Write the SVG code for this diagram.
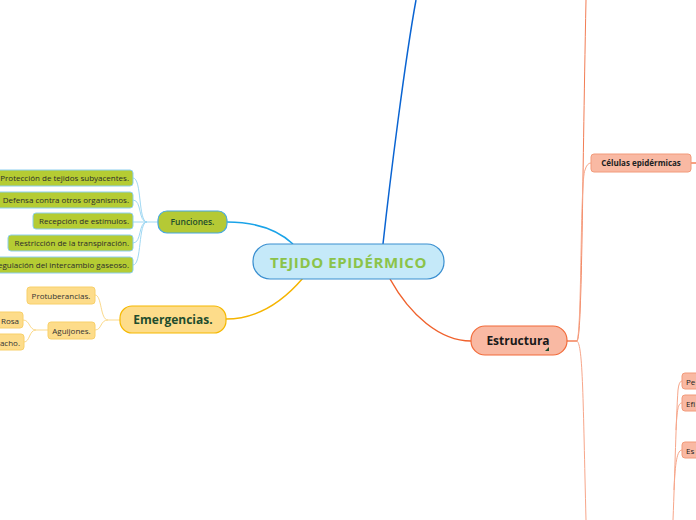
<svg xmlns="http://www.w3.org/2000/svg" width="696" height="520" viewBox="0 0 696 520">
<style>
text{font-family:"Open Sans","Noto Sans","Liberation Sans",sans-serif;}
.leaf-g rect{fill:#b5cc33;stroke:#8ccfee;stroke-width:1;}
.leaf-g text{font-size:8px;fill:#2b2b2b;text-anchor:end;}
.leaf-y rect{fill:#fddc8a;stroke:#f8d06a;stroke-width:1;}
.leaf-y text{font-size:8px;fill:#333;}
.leaf-r rect{fill:#f9b9a3;stroke:#f29a7a;stroke-width:1;}
.leaf-r text{font-size:8px;fill:#222;}
.c-blue{fill:none;stroke:#1aa3e8;stroke-width:1.5;}
.c-lblue{fill:none;stroke:#9fd8f3;stroke-width:1;}
.c-yel{fill:none;stroke:#f5b400;stroke-width:1.5;}
.c-lyel{fill:none;stroke:#fbd98a;stroke-width:1;}
.c-red{fill:none;stroke:#f0622d;stroke-width:1.5;}
.c-lred{fill:none;stroke:#f7a68a;stroke-width:1;}
</style>
<g id="connectors">
<path class="c-blue" d="M383,244 C390,180 405,60 416,0" style="stroke:#0a64d2"/>
<path class="c-blue" d="M293,244 C280,232 260,222 227,222"/>
<path class="c-yel" d="M303,278 C280,305 255,319 226,319"/>
<path class="c-red" d="M390,279 C410,315 440,341 471,341"/>
<path class="c-lblue" d="M158,222 L147,222 C138,222 142,178 133,178"/>
<path class="c-lblue" d="M147,222 C138,222 142,200 133,200"/>
<path class="c-lblue" d="M147,222 L133,222"/>
<path class="c-lblue" d="M147,222 C138,222 142,243 133,243"/>
<path class="c-lblue" d="M147,222 C138,222 142,265 133,265"/>
<path class="c-lyel" d="M120,320 L108,320 C100,320 102,295 95,295"/>
<path class="c-lyel" d="M108,320 C100,320 102,330 95,330"/>
<path class="c-lyel" d="M48,330 L36,330 C29,330 30,320 23,320"/>
<path class="c-lyel" d="M36,330 C29,330 30,342 24,342"/>
<path class="c-red" d="M567,341 L577,341" style="stroke-width:1.2"/>
<path class="c-lred" d="M577,341 C582,338 582,200 586,0" style="stroke:#f27d55"/>
<path class="c-lred" d="M577,341 C582,330 580,180 585,170 Q587,163 591,163"/>
<path class="c-lred" d="M577,341 C583,345 583,400 586,520"/>
<path class="c-red" d="M691,163 L696,163" style="stroke-width:1.2"/>
<path class="c-lred" d="M673,520 C675,470 676,420 678,390 Q679,381 682,381"/>
<path class="c-lred" d="M676,430 C677,410 678,403 682,403"/>
<path class="c-lred" d="M674,490 C675,470 676,450 682,450"/>
</g>
<g id="central">
<rect x="253" y="244" width="191" height="35" rx="17" fill="#c5e9f9" stroke="#3a8fd0" stroke-width="1.2"/>
<text x="348.5" y="267.5" text-anchor="middle" font-size="15" font-weight="bold" fill="#8bc34a" letter-spacing="0.6">TEJIDO EPIDÉRMICO</text>
</g>
<g id="funciones">
<rect x="158" y="211" width="69" height="22" rx="9" fill="#b5c935" stroke="#46a8df" stroke-width="1.2"/>
<text x="192.5" y="225" text-anchor="middle" font-size="8.5" font-weight="600" fill="#1f4d2e">Funciones.</text>
</g>
<g id="f1" class="leaf-g"><rect x="-10" y="170" width="143" height="16" rx="3"/><text x="129" y="181">Protección de tejidos subyacentes.</text></g>
<g id="f2" class="leaf-g"><rect x="-10" y="192" width="143" height="16" rx="3"/><text x="129" y="203">Defensa contra otros organismos.</text></g>
<g id="f3" class="leaf-g"><rect x="33" y="213" width="100" height="16" rx="3"/><text x="129" y="224">Recepción de estímulos.</text></g>
<g id="f4" class="leaf-g"><rect x="8" y="235" width="125" height="16" rx="3"/><text x="129" y="246">Restricción de la transpiración.</text></g>
<g id="f5" class="leaf-g"><rect x="-20" y="257" width="153" height="16" rx="3"/><text x="129" y="268">Regulación del intercambio gaseoso.</text></g>
<g id="emergencias">
<rect x="120" y="306" width="106" height="27" rx="12" fill="#fddc8a" stroke="#f5b800" stroke-width="1.2"/>
<text x="173" y="324" text-anchor="middle" font-size="12" font-weight="bold" fill="#1f4d2e">Emergencias.</text>
</g>
<g id="e1" class="leaf-y"><rect x="27" y="287" width="68" height="17" rx="3"/><text x="61" y="298.5" text-anchor="middle">Protuberancias.</text></g>
<g id="e2" class="leaf-y"><rect x="48" y="322" width="47" height="17" rx="3"/><text x="71.5" y="333.5" text-anchor="middle">Aguijones.</text></g>
<g id="e21" class="leaf-y"><rect x="-10" y="312" width="33" height="16" rx="3"/><text x="19" y="323.5" text-anchor="end">Rosa</text></g>
<g id="e22" class="leaf-y"><rect x="-10" y="334" width="34" height="16" rx="3"/><text x="20" y="345.5" text-anchor="end">racho.</text></g>
<g id="estructura">
<rect x="471" y="326" width="96" height="29" rx="14" fill="#f9b9a3" stroke="#f26b3a" stroke-width="1.2"/>
<text x="518" y="345" text-anchor="middle" font-size="12" font-weight="bold" fill="#1a1a1a">Estructura</text>
<path d="M549,347 L549,351 L545,351 Z" fill="#1f4d2e"/>
</g>
<g id="celulas" class="leaf-r"><rect x="591" y="154" width="100" height="18" rx="3"/><text x="641" y="166" text-anchor="middle" font-weight="bold" font-size="8.5">Células epidérmicas</text></g>
<g id="r1" class="leaf-r"><rect x="682" y="373" width="30" height="16" rx="3"/><text x="686" y="384.5">Pe</text></g>
<g id="r2" class="leaf-r"><rect x="682" y="395" width="30" height="16" rx="3"/><text x="686" y="406.5">Efi</text></g>
<g id="r3" class="leaf-r"><rect x="682" y="442" width="30" height="16" rx="3"/><text x="686" y="453.5">Es</text></g>
</svg>
